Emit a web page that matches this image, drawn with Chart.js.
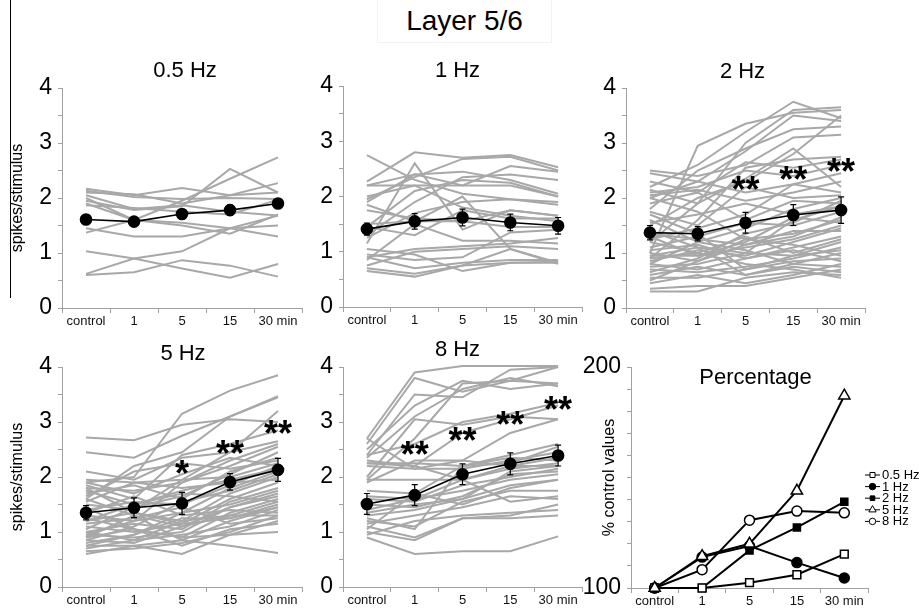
<!DOCTYPE html>
<html>
<head>
<meta charset="utf-8">
<script src="https://cdn.jsdelivr.net/npm/chart.js@4.4.1/dist/chart.umd.min.js"></script>
<style>
  html, body { margin: 0; padding: 0; background: #fff; }
  body { width: 921px; height: 610px; position: relative; overflow: hidden; font-family: "Liberation Sans", Arial, sans-serif; }
  canvas { position: absolute; }
  #layer-title { position: absolute; left: 377px; top: 0; width: 175px; height: 43px; line-height: 42px; text-align: center; font-size: 28px; color: #000; border: 1px solid #f2f2f2; border-top: none; box-sizing: border-box; }
  #frame-line { position: absolute; left: 10px; top: 0; width: 1px; height: 298px; background: #000; }
</style>
</head>
<body>
<div id="frame-line"></div>
<div id="layer-title">Layer 5/6</div>
<canvas id="c05" width="310" height="285" style="left:2px;top:48px"></canvas>
<canvas id="c1" width="309" height="286" style="left:283px;top:46px"></canvas>
<canvas id="c2" width="309" height="285" style="left:566px;top:48px"></canvas>
<canvas id="c5" width="310" height="285" style="left:2px;top:327px"></canvas>
<canvas id="c8" width="309" height="285" style="left:283px;top:327px"></canvas>
<canvas id="cpct" width="350" height="286" style="left:571px;top:327px"></canvas>
<script>
const timeLabels = ['control', '1', '5', '15', '30 min'];

// 0.5 Hz: single cells, mean, s.e.m.
const cells05 = [
  [2.17, 2.05, 2.18, 2.05, 2.10],
  [2.13, 2.02, 1.98, 2.00, 1.98],
  [2.10, 2.07, 1.90, 2.05, 2.27],
  [2.05, 1.80, 1.87, 1.75, 1.68],
  [1.95, 1.78, 1.85, 2.53, 2.10],
  [1.90, 1.60, 1.55, 1.45, 1.30],
  [1.45, 1.30, 1.30, 1.45, 1.50],
  [1.37, 1.60, 1.95, 2.35, 2.74],
  [1.87, 1.82, 1.75, 1.70, 1.97],
  [1.03, 0.90, 0.72, 0.55, 0.80],
  [0.62, 0.90, 1.03, 1.45, 1.68],
  [0.60, 0.65, 0.87, 0.77, 0.57],
  [2.00, 1.60, 1.50, 1.35, 1.70]
];
const mean05 = [1.61, 1.57, 1.71, 1.78, 1.90];
const sem05 = [0.09, 0.07, 0.08, 0.09, 0.09];

// 1 Hz
const cells1 = [
  [2.75, 2.30, 2.05, 1.95, 1.90],
  [2.27, 2.80, 2.70, 2.75, 2.53],
  [1.95, 2.35, 2.68, 2.72, 2.47],
  [2.20, 2.40, 2.45, 2.30, 2.05],
  [1.90, 2.40, 2.20, 2.55, 2.45],
  [1.15, 2.60, 1.40, 1.75, 1.65],
  [1.85, 1.55, 2.00, 1.05, 0.80],
  [2.00, 2.20, 2.20, 2.20, 2.00],
  [1.45, 1.30, 1.75, 1.60, 1.60],
  [1.30, 1.90, 2.35, 2.40, 2.30],
  [1.50, 1.55, 1.55, 1.75, 1.65],
  [0.90, 1.05, 1.10, 1.15, 1.25],
  [1.05, 0.95, 0.65, 0.80, 0.82],
  [0.70, 0.60, 0.75, 0.80, 0.80],
  [0.65, 0.55, 0.75, 1.05, 0.78],
  [0.85, 1.50, 1.20, 1.20, 1.15],
  [0.75, 1.00, 1.05, 1.10, 1.05],
  [0.90, 0.70, 0.80, 0.85, 0.85],
  [1.25, 1.70, 1.90, 1.95, 1.85],
  [1.45, 2.10, 2.30, 2.25, 2.00],
  [2.20, 2.20, 1.80, 1.65, 1.55],
  [1.75, 1.60, 1.55, 1.45, 1.45],
  [0.95, 0.85, 0.90, 1.35, 1.40]
];
const mean1 = [1.41, 1.55, 1.62, 1.53, 1.47];
const sem1 = [0.11, 0.14, 0.15, 0.15, 0.15];

// 2 Hz
const cells2 = [
  [1.00, 2.95, 3.35, 3.55, 3.60],
  [2.20, 2.60, 3.20, 3.75, 3.45],
  [1.20, 1.90, 3.00, 3.60, 3.65],
  [2.00, 2.30, 2.85, 3.50, 3.40],
  [2.50, 2.40, 2.60, 3.10, 3.15],
  [1.80, 2.50, 2.90, 3.25, 3.30],
  [0.90, 1.60, 2.55, 2.70, 2.75],
  [2.10, 2.20, 2.50, 2.40, 2.60],
  [1.50, 2.00, 2.30, 2.80, 3.50],
  [2.45, 2.30, 2.10, 2.25, 2.45],
  [2.05, 2.15, 1.95, 2.10, 2.30],
  [1.75, 1.50, 2.20, 2.00, 2.05],
  [1.60, 1.20, 1.45, 1.80, 2.00],
  [2.30, 2.10, 1.60, 1.95, 1.90],
  [1.40, 1.10, 1.00, 1.60, 1.85],
  [1.10, 1.30, 1.55, 1.50, 1.75],
  [1.00, 0.85, 1.25, 1.35, 1.60],
  [0.95, 0.95, 1.10, 1.25, 1.50],
  [0.85, 1.05, 0.95, 1.20, 1.45],
  [0.80, 0.70, 0.90, 1.10, 1.30],
  [0.75, 0.80, 1.00, 0.95, 1.20],
  [0.70, 0.65, 0.75, 0.90, 1.10],
  [0.60, 0.75, 0.60, 0.80, 1.00],
  [0.55, 0.55, 0.70, 0.85, 0.90],
  [0.45, 0.60, 0.45, 0.60, 0.80],
  [0.35, 0.40, 0.40, 0.55, 0.70],
  [0.30, 0.30, 0.55, 0.65, 0.60],
  [1.20, 1.00, 1.30, 1.00, 1.25],
  [1.35, 1.25, 1.15, 1.40, 1.40],
  [1.05, 1.15, 0.90, 1.05, 0.85],
  [0.90, 1.00, 0.80, 0.70, 0.55],
  [1.70, 1.35, 0.70, 0.95, 1.05],
  [2.00, 1.75, 1.25, 1.15, 0.95],
  [1.25, 1.45, 1.70, 2.25, 2.10],
  [0.65, 0.90, 1.35, 1.55, 1.95],
  [1.90, 2.10, 2.65, 2.55, 2.70],
  [0.50, 0.85, 1.15, 1.30, 1.65],
  [1.55, 1.70, 1.90, 1.70, 1.85],
  [0.80, 1.20, 1.05, 0.80, 0.75],
  [1.30, 0.95, 1.20, 1.65, 1.55],
  [2.15, 1.90, 2.35, 2.90, 2.20],
  [0.95, 1.10, 0.60, 0.75, 0.65]
];
const mean2 = [1.37, 1.35, 1.55, 1.69, 1.78];
const sem2 = [0.13, 0.13, 0.19, 0.19, 0.24];
const stars2 = ['', '', '**', '**', '**'];
const starLevel2 = [0, 0, 2.27, 2.45, 2.60];

// 5 Hz
const cells5 = [
  [2.72, 2.67, 2.95, 3.05, 3.00],
  [2.45, 2.35, 2.75, 3.10, 3.45],
  [1.90, 2.00, 3.15, 3.57, 3.85],
  [1.60, 2.20, 2.45, 3.10, 3.47],
  [2.10, 1.95, 2.35, 2.45, 3.20],
  [1.85, 1.60, 2.40, 2.60, 2.85],
  [1.95, 1.90, 1.95, 2.45, 2.65],
  [1.80, 1.75, 1.90, 2.20, 2.55],
  [1.70, 1.85, 1.60, 2.10, 2.35],
  [1.50, 1.40, 1.95, 2.00, 2.25],
  [1.40, 1.55, 1.50, 1.85, 2.20],
  [1.30, 1.20, 1.35, 1.80, 2.10],
  [1.20, 1.35, 1.20, 1.70, 2.00],
  [1.10, 1.00, 1.15, 1.60, 1.90],
  [1.00, 1.15, 1.05, 1.55, 1.80],
  [0.95, 0.90, 1.00, 1.45, 1.70],
  [0.90, 1.05, 0.90, 1.35, 1.60],
  [0.85, 0.80, 1.10, 1.30, 1.55],
  [0.80, 0.95, 1.25, 1.25, 1.50],
  [0.75, 0.75, 0.85, 1.20, 1.45],
  [0.70, 0.85, 0.95, 1.10, 1.40],
  [0.65, 0.70, 0.80, 1.00, 1.30],
  [0.60, 0.75, 0.60, 0.95, 1.20],
  [1.60, 1.30, 0.85, 0.75, 0.62],
  [1.25, 1.05, 0.90, 0.95, 1.00],
  [1.15, 1.25, 1.45, 1.15, 1.25],
  [1.35, 1.65, 1.30, 1.40, 1.35],
  [1.75, 1.50, 1.70, 1.65, 1.55],
  [1.55, 1.90, 1.80, 1.90, 1.95],
  [1.05, 1.45, 1.65, 2.05, 2.45],
  [0.95, 1.20, 1.90, 2.30, 2.60],
  [1.65, 2.10, 2.25, 2.15, 2.30],
  [0.85, 1.10, 1.55, 1.75, 2.05],
  [1.45, 1.05, 0.75, 1.05, 1.15],
  [0.75, 0.95, 1.35, 1.50, 1.75],
  [1.90, 1.70, 2.05, 2.35, 2.20],
  [1.00, 0.85, 1.20, 1.30, 1.30],
  [1.20, 1.50, 1.75, 1.95, 2.15],
  [0.90, 1.30, 1.10, 1.45, 1.65],
  [1.80, 1.35, 1.15, 1.25, 1.45]
];
const mean5 = [1.35, 1.44, 1.52, 1.91, 2.13];
const sem5 = [0.13, 0.18, 0.20, 0.15, 0.21];
const stars5 = ['', '', '*', '**', '**'];
const starLevel5 = [0, 0, 2.18, 2.55, 2.91];

// 8 Hz
const cells8 = [
  [2.70, 3.90, 4.02, 4.02, 4.02],
  [2.60, 3.80, 3.55, 3.75, 4.00],
  [2.40, 3.50, 3.45, 3.95, 4.00],
  [2.50, 3.30, 3.75, 3.60, 3.70],
  [2.35, 3.10, 3.60, 3.80, 3.65],
  [1.95, 2.70, 3.70, 3.75, 3.70],
  [2.40, 2.60, 3.00, 3.15, 3.35],
  [2.25, 2.20, 2.80, 3.05, 3.30],
  [1.90, 2.30, 2.30, 2.80, 3.05],
  [2.00, 3.05, 2.95, 3.10, 3.05],
  [2.25, 2.25, 2.20, 2.25, 2.55],
  [2.20, 2.15, 2.15, 2.30, 2.45],
  [1.95, 1.95, 1.95, 2.20, 2.35],
  [1.65, 1.60, 1.95, 2.15, 2.25],
  [1.60, 1.55, 1.85, 2.00, 2.15],
  [1.50, 1.45, 1.65, 2.05, 2.10],
  [1.40, 1.60, 1.75, 1.95, 2.05],
  [1.30, 1.40, 1.60, 1.85, 1.95],
  [1.20, 1.10, 1.55, 1.75, 1.75],
  [1.15, 1.30, 1.45, 1.65, 1.60],
  [1.10, 0.90, 1.25, 1.30, 1.50],
  [1.00, 0.85, 1.25, 1.25, 1.30],
  [0.95, 1.20, 1.30, 1.35, 1.40],
  [0.90, 0.60, 0.65, 0.65, 0.92],
  [1.05, 1.70, 2.20, 2.40, 2.60],
  [1.25, 1.05, 2.20, 2.35, 2.30],
  [2.70, 2.15, 2.30, 2.20, 2.20],
  [1.75, 1.70, 1.50, 1.80, 1.95],
  [2.30, 2.20, 1.95, 1.55, 1.65],
  [1.35, 1.50, 1.60, 2.10, 2.20]
];
const mean8 = [1.51, 1.67, 2.05, 2.24, 2.39];
const sem8 = [0.19, 0.19, 0.19, 0.20, 0.19];
const stars8 = ['', '**', '**', '**', '**'];
const starLevel8 = [0, 2.53, 2.78, 3.07, 3.35];

// mean responses as % of control
const pct05 = [100, 100, 102.4, 106, 115.3];
const pct1 = [100, 114, 119, 111.5, 104.5];
const pct2 = [100, 100, 117, 127.4, 139];
const pct5 = [100, 114.4, 120, 144, 187];
const pct8 = [100, 108.3, 130.7, 134.8, 134];

Chart.defaults.font.family = "'Liberation Sans', Arial, sans-serif";
Chart.defaults.color = '#000';

const AXIS_GREY = '#a0a0a0';
const CELL_GREY = '#a8a8a8';

// panel heading, drawn relative to the plot area
const panelTitle = {
  id: 'panelTitle',
  afterDraw(chart, args, opts) {
    if (!opts.text) return;
    const { ctx, chartArea } = chart;
    ctx.save();
    ctx.font = "22px 'Liberation Sans', Arial, sans-serif";
    ctx.fillStyle = '#000';
    ctx.textAlign = 'center';
    ctx.textBaseline = 'middle';
    ctx.fillText(opts.text, (chartArea.left + chartArea.right) / 2 + (opts.dx || 0), chartArea.top + opts.dy);
    ctx.restore();
  }
};

// vertical s.e.m. bars with small caps
const errorBars = {
  id: 'errorBars',
  afterDatasetsDraw(chart) {
    const { ctx } = chart;
    const yScale = chart.scales.y;
    chart.data.datasets.forEach((ds, i) => {
      if (!ds.errorBars) return;
      const meta = chart.getDatasetMeta(i);
      ctx.save();
      ctx.strokeStyle = '#000';
      ctx.lineWidth = 1.2;
      meta.data.forEach((pt, j) => {
        const top = yScale.getPixelForValue(ds.data[j] + ds.errorBars[j]);
        const bot = yScale.getPixelForValue(ds.data[j] - ds.errorBars[j]);
        ctx.beginPath();
        ctx.moveTo(pt.x, top); ctx.lineTo(pt.x, bot);
        ctx.moveTo(pt.x - 3, top); ctx.lineTo(pt.x + 3, top);
        ctx.moveTo(pt.x - 3, bot); ctx.lineTo(pt.x + 3, bot);
        ctx.stroke();
      });
      ctx.restore();
    });
  }
};

// significance asterisks, centred on a level in data units
const sigStars = {
  id: 'sigStars',
  afterDatasetsDraw(chart, args, opts) {
    if (!opts.marks) return;
    const { ctx } = chart;
    const xs = chart.scales.x, ys = chart.scales.y;
    ctx.save();
    ctx.font = "bold 36px 'Liberation Sans', Arial, sans-serif";
    ctx.fillStyle = '#000';
    ctx.textAlign = 'center';
    ctx.textBaseline = 'alphabetic';
    opts.marks.forEach((m, i) => {
      if (!m) return;
      const tm = ctx.measureText(m);
      const shift = (tm.actualBoundingBoxAscent - tm.actualBoundingBoxDescent) / 2;
      ctx.fillText(m, xs.getPixelForValue(i), ys.getPixelForValue(opts.levels[i]) + shift);
    });
    ctx.restore();
  }
};

// small line-and-marker key to the right of the plot
const sideKey = {
  id: 'sideKey',
  afterDraw(chart, args, opts) {
    if (!opts.show) return;
    const { ctx, chartArea } = chart;
    const x0 = chartArea.right - 3;
    ctx.save();
    ctx.font = "13px 'Liberation Sans', Arial, sans-serif";
    ctx.textBaseline = 'middle';
    chart.data.datasets.forEach((ds, i) => {
      const y = chartArea.top + 108 + i * 11.6;
      ctx.strokeStyle = '#000';
      ctx.lineWidth = 1;
      ctx.beginPath();
      ctx.moveTo(x0, y); ctx.lineTo(x0 + 15, y);
      ctx.stroke();
      ctx.fillStyle = ds.pointBackgroundColor;
      ctx.strokeStyle = '#000';
      Chart.helpers.drawPoint(ctx, { pointStyle: ds.pointStyle, radius: ds.pointRadius * 0.65, borderWidth: 1, rotation: 0 }, x0 + 7.5, y);
      ctx.fillStyle = '#000';
      ctx.fillText(ds.label, x0 + 17, y + 0.5);
    });
    ctx.restore();
  }
};

function xAxis() {
  return {
    offset: true,
    grid: { offset: true, drawOnChartArea: false, drawTicks: true, tickLength: 5, color: AXIS_GREY },
    border: { color: AXIS_GREY },
    ticks: { font: { size: 13 }, color: '#111', padding: 1, maxRotation: 0, autoSkip: false },
    afterFit: s => { s.height = 25; }
  };
}

function yAxis(min, max, step, labelled, title, titlePad) {
  return {
    min: min, max: max,
    ticks: {
      stepSize: step, autoSkip: false, padding: 6, color: '#000', font: { size: 23 },
      callback: v => labelled.includes(v) ? String(v) : ''
    },
    grid: { drawOnChartArea: false, drawTicks: true, tickLength: 4, color: AXIS_GREY },
    border: { color: AXIS_GREY },
    title: { display: !!title, text: title || '', font: { size: 16 }, color: '#000', padding: { top: titlePad || 0, bottom: 0 } },
    afterFit: s => { s.width = 60; }
  };
}

function cellPanel(id, cells, mean, sem, heading, opts) {
  const datasets = [{
    data: mean,
    errorBars: sem,
    borderColor: '#000',
    borderWidth: 1.6,
    pointRadius: 5.5,
    pointBackgroundColor: '#000',
    pointBorderColor: '#000',
    order: 0,
    clip: false
  }];
  cells.forEach(row => datasets.push({
    data: row,
    borderColor: CELL_GREY,
    borderWidth: 2,
    pointRadius: 0,
    order: 1,
    clip: false
  }));
  return new Chart(document.getElementById(id), {
    type: 'line',
    data: { labels: timeLabels, datasets: datasets },
    plugins: [panelTitle, errorBars, sigStars],
    options: {
      responsive: false,
      animation: false,
      devicePixelRatio: 1,
      layout: { padding: { left: 0, right: 10, top: 40, bottom: 0 } },
      elements: { line: { tension: 0 } },
      plugins: {
        legend: { display: false },
        tooltip: { enabled: false },
        panelTitle: { text: heading, dx: opts.dx, dy: opts.dy },
        sigStars: { marks: opts.stars, levels: opts.levels }
      },
      scales: {
        x: xAxis(),
        y: yAxis(0, 4, 0.5, [0, 1, 2, 3, 4], opts.yTitle, 6.4)
      }
    }
  });
}

cellPanel('c05', cells05, mean05, sem05, '0.5 Hz', { dx: 3, dy: -17, yTitle: 'spikes/stimulus' });
cellPanel('c1', cells1, mean1, sem1, '1 Hz', { dx: -5, dy: -15 });
cellPanel('c2', cells2, mean2, sem2, '2 Hz', { dx: -3, dy: -16, stars: stars2, levels: starLevel2 });
cellPanel('c5', cells5, mean5, sem5, '5 Hz', { dx: 1, dy: -13, yTitle: 'spikes/stimulus', stars: stars5, levels: starLevel5 });
cellPanel('c8', cells8, mean8, sem8, '8 Hz', { dx: -5, dy: -17, stars: stars8, levels: starLevel8 });

function pctSeries(label, values, style, radius, fill, order) {
  return {
    label: label,
    data: values,
    borderColor: '#000',
    borderWidth: 2,
    pointStyle: style,
    pointRadius: radius,
    pointBackgroundColor: fill,
    pointBorderColor: '#000',
    pointBorderWidth: 1.5,
    order: order,
    clip: false
  };
}

new Chart(document.getElementById('cpct'), {
  type: 'line',
  data: {
    labels: timeLabels,
    datasets: [
      pctSeries('0.5 Hz', pct05, 'rect', 5.5, '#fff', 1),
      pctSeries('1 Hz', pct1, 'circle', 5, '#000', 4),
      pctSeries('2 Hz', pct2, 'rect', 5, '#000', 3),
      pctSeries('5 Hz', pct5, 'triangle', 6.5, '#fff', 0),
      pctSeries('8 Hz', pct8, 'circle', 5, '#fff', 2)
    ]
  },
  plugins: [panelTitle, sideKey],
  options: {
    responsive: false,
    animation: false,
    devicePixelRatio: 1,
    layout: { padding: { left: 0, right: 53, top: 40, bottom: 0 } },
    elements: { line: { tension: 0 } },
    plugins: {
      legend: { display: false },
      tooltip: { enabled: false },
      panelTitle: { text: 'Percentage', dx: 6, dy: 11 },
      sideKey: { show: true }
    },
    scales: {
      x: xAxis(),
      y: yAxis(100, 200, 10, [100, 200], '% control values', 29.4)
    }
  }
});
</script>
</body>
</html>
